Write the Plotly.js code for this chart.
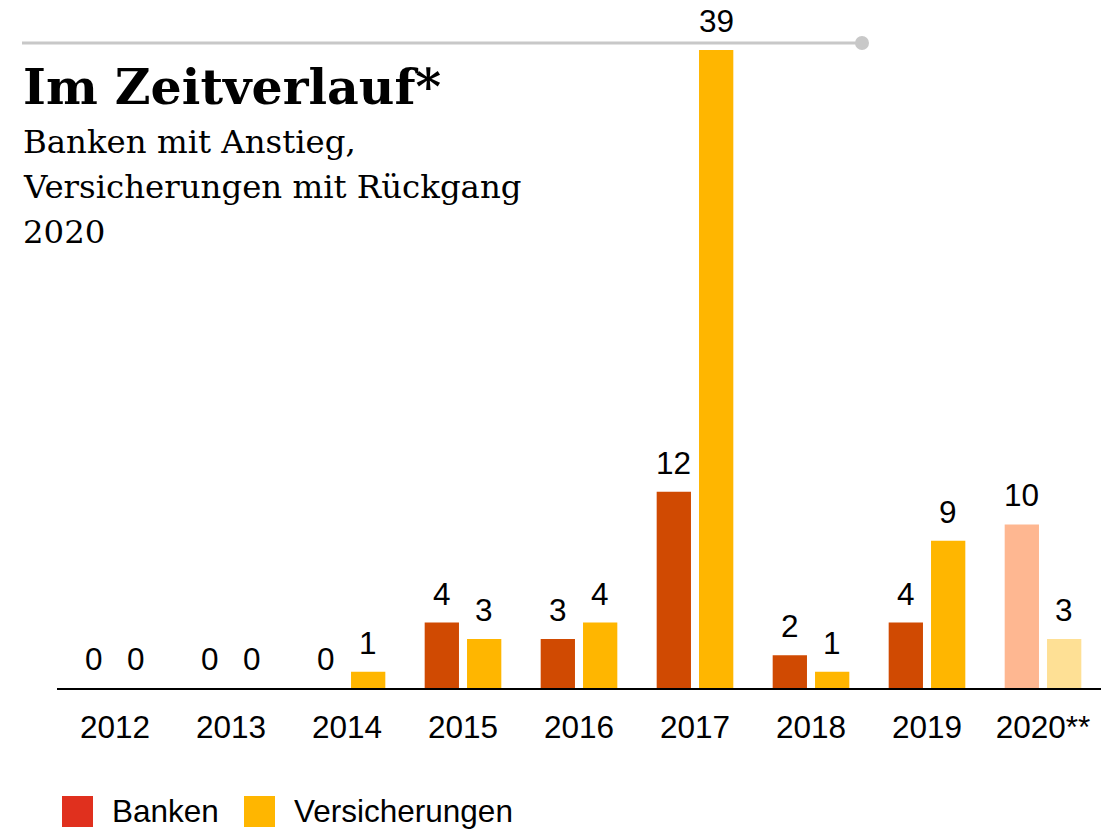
<!DOCTYPE html>
<html>
<head>
<meta charset="utf-8">
<script src="https://cdn.plot.ly/plotly-3.0.1.min.js"></script>
<style>html,body{margin:0;padding:0;background:#fff;}#chart{width:1119px;height:829px;}</style>
</head>
<body>
<div id="chart"></div>
<script>
// ---- data ----
const categories = ["2012","2013","2014","2015","2016","2017","2018","2019","2020**"];
const banken = [0,0,0,4,3,12,2,4,10];
const versicherungen = [0,0,1,3,4,39,1,9,3];
const seriesNames = ["Banken","Versicherungen"];
const titleText = "Im Zeitverlauf*";
const subtitleLines = ["Banken mit Anstieg,","Versicherungen mit Rückgang","2020"];

// ---- styles ----
const W = 1119, H = 829;
const M = {l:57, r:18, t:50, b:141};
const plotW = W - M.l - M.r, plotH = H - M.t - M.b;
const px = x => (x - M.l) / plotW;
const py = y => (H - M.b - y) / plotH;
const bankColor = "#d04a02", versColor = "#ffb600";
const bankLight = "#feb791", versLight = "#fee095";
const legendBank = "#e0301e";
const bankColors = categories.map((c,i) => i === categories.length-1 ? bankLight : bankColor);
const versColors = categories.map((c,i) => i === categories.length-1 ? versLight : versColor);
const sans = "Liberation Sans, Arial, sans-serif";
const serif = "DejaVu Serif, serif";
const fs = 31.5;
const bargap = 0.27, bargroupgap = 0.19;
const catW = plotW / categories.length;
const slot = catW * (1 - bargap) / 2;

const traces = [
  {type:"bar", name:seriesNames[0], x:categories, y:banken, marker:{color:bankColors}, showlegend:false, hoverinfo:"x+y"},
  {type:"bar", name:seriesNames[1], x:categories, y:versicherungen, marker:{color:versColors}, showlegend:false, hoverinfo:"x+y"}
];

const annotations = [];
banken.forEach((v,i) => annotations.push({x:i, y:v, xref:"x", yref:"y", text:String(v), showarrow:false,
  xshift:-slot/2, yanchor:"bottom", yshift:9, font:{family:sans, size:fs, color:"#000"}}));
versicherungen.forEach((v,i) => annotations.push({x:i, y:v, xref:"x", yref:"y", text:String(v), showarrow:false,
  xshift:slot/2, yanchor:"bottom", yshift:9, font:{family:sans, size:fs, color:"#000"}}));

// title & subtitle
annotations.push({xref:"paper", yref:"paper", x:px(21), y:py(87), xanchor:"left", yanchor:"middle", showarrow:false,
  text:"<b>"+titleText+"</b>", font:{family:serif, size:49, color:"#000"}});
const subY = [142, 187, 232];
subtitleLines.forEach((t,i) => annotations.push({xref:"paper", yref:"paper", x:px(21), y:py(subY[i]), xanchor:"left", yanchor:"middle",
  showarrow:false, text:t, font:{family:serif, size:32.4, color:"#000"}}));

// legend (custom)
const legendItems = [{name:seriesNames[0], color:legendBank, sx:62, tx:110}, {name:seriesNames[1], color:versColor, sx:244, tx:292}];
const shapes = [
  {type:"line", xref:"paper", yref:"paper", x0:px(22), x1:px(862), y0:py(43), y1:py(43), line:{color:"#c8c8c8", width:3}},
  {type:"circle", xref:"paper", yref:"paper", x0:px(855), x1:px(869), y0:py(36), y1:py(50), fillcolor:"#c8c8c8", line:{width:0}}
];
legendItems.forEach(it => {
  shapes.push({type:"rect", xref:"paper", yref:"paper", x0:px(it.sx), x1:px(it.sx+31), y0:py(796), y1:py(827), fillcolor:it.color, line:{width:0}});
  annotations.push({xref:"paper", yref:"paper", x:px(it.tx), y:py(811), xanchor:"left", yanchor:"middle", showarrow:false,
    text:it.name, font:{family:sans, size:fs, color:"#000"}});
});

const layout = {
  width:W, height:H, margin:M, paper_bgcolor:"#fff", plot_bgcolor:"#fff",
  barmode:"group", bargap:bargap, bargroupgap:bargroupgap, showlegend:false,
  xaxis:{type:"category", range:[-0.5, categories.length-0.5], autorange:false, showline:true, linecolor:"#000", linewidth:2, ticks:"", showgrid:false, zeroline:false,
    tickfont:{family:sans, size:fs, color:"#000"}, ticklabelstandoff:10, fixedrange:true},
  yaxis:{range:[0,39], autorange:false, visible:false, showgrid:false, zeroline:false, fixedrange:true},
  annotations:annotations, shapes:shapes
};
Plotly.newPlot("chart", traces, layout, {displayModeBar:false, staticPlot:true});
</script>
</body>
</html>
